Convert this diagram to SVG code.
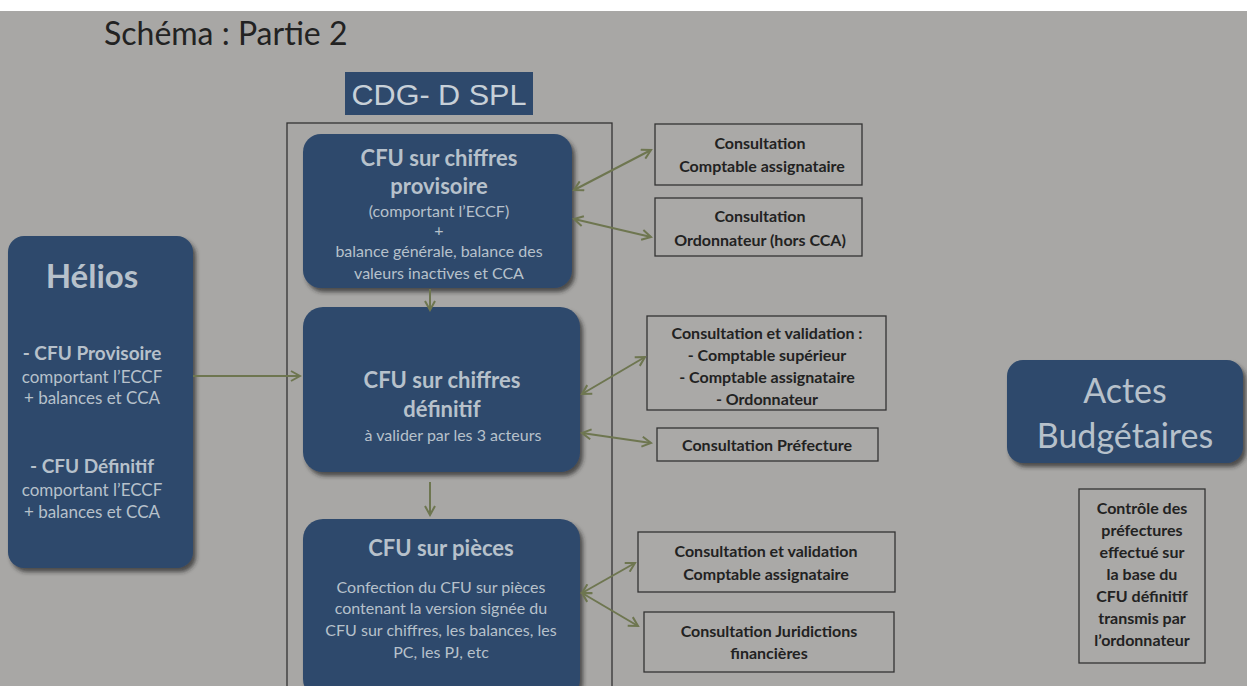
<svg xmlns="http://www.w3.org/2000/svg" width="1247" height="686" viewBox="0 0 1247 686">
<defs>
<marker id="ah" viewBox="0 0 12 12" refX="10" refY="6" markerWidth="12" markerHeight="12" markerUnits="userSpaceOnUse" orient="auto-start-reverse">
<path d="M1,1 L10,6 L1,11" fill="none" stroke="#6e7650" stroke-width="2"/>
</marker>
<filter id="sh" x="-5%" y="-5%" width="115%" height="115%">
<feDropShadow dx="3" dy="4" stdDeviation="2" flood-color="#222" flood-opacity="0.7"/>
</filter>
</defs>
<style>
.bg{fill:#a8a7a5}
.node{fill:#2e496c;filter:url(#sh)}
.nt{font-family:Lato,"Open Sans",sans-serif;fill:#b7c1cb;text-anchor:middle}
.h1{font-size:22px;font-weight:bold}
.sm{font-size:16px}
.box{fill:#aaa9a7;stroke:#333;stroke-width:1.3}
.bt{font-family:Lato,"Open Sans",sans-serif;font-size:16px;font-weight:bold;fill:#222;text-anchor:middle}
.con{stroke:#6e7650;stroke-width:2;fill:none;marker-end:url(#ah)}
.dbl{marker-start:url(#ah)}
</style>
<rect x="0" y="0" width="1247" height="686" class="bg"/>
<rect x="0" y="0" width="1247" height="11" fill="#ffffff"/>
<text x="104" y="45" font-family="Lato,'Open Sans',sans-serif" font-size="32" fill="#222">Schéma : Partie 2</text>

<g id="cdg">
<rect x="345" y="72" width="188" height="43" fill="#2e496c"/>
<text x="439" y="105" font-family="'Liberation Sans',Arial,sans-serif" font-size="30" fill="#c7d0d8" text-anchor="middle" textLength="175" lengthAdjust="spacingAndGlyphs">CDG- D SPL</text>
<rect x="287" y="123" width="325" height="580" fill="none" stroke="#333" stroke-width="1.3"/>
</g>

<g id="helios">
<rect x="8" y="236" width="185" height="332" rx="16" class="node"/>
<text x="92" y="288" class="nt" font-size="33" font-weight="bold">Hélios</text>
<text x="92" y="360" class="nt" font-size="19" font-weight="bold">- CFU Provisoire</text>
<text x="92" y="383" class="nt" font-size="17">comportant l’ECCF</text>
<text x="92" y="404" class="nt" font-size="17">+ balances et CCA</text>
<text x="92" y="473" class="nt" font-size="19" font-weight="bold">- CFU Définitif</text>
<text x="92" y="496" class="nt" font-size="17">comportant l’ECCF</text>
<text x="92" y="518" class="nt" font-size="17">+ balances et CCA</text>
</g>

<g id="n1">
<rect x="303" y="134" width="269" height="154" rx="18" class="node"/>
<text x="439" y="166" class="nt h1">CFU sur chiffres</text>
<text x="439" y="194" class="nt h1">provisoire</text>
<text x="439" y="217" class="nt sm">(comportant l’ECCF)</text>
<text x="439" y="236" class="nt sm">+</text>
<text x="439" y="257" class="nt sm">balance générale, balance des</text>
<text x="439" y="279" class="nt sm">valeurs inactives et CCA</text>
</g>

<g id="n2">
<rect x="303" y="307" width="277" height="165" rx="20" class="node"/>
<text x="442" y="388" class="nt h1">CFU sur chiffres</text>
<text x="442" y="417" class="nt h1">définitif</text>
<text x="453" y="441" class="nt sm">à valider par les 3 acteurs</text>
</g>

<g id="n3">
<rect x="303" y="519" width="277" height="180" rx="20" class="node"/>
<text x="441" y="556" class="nt h1">CFU sur pièces</text>
<text x="441" y="593" class="nt sm">Confection du CFU sur pièces</text>
<text x="441" y="614" class="nt sm">contenant la version signée du</text>
<text x="441" y="636" class="nt sm">CFU sur chiffres, les balances, les</text>
<text x="441" y="658" class="nt sm">PC, les PJ, etc</text>
</g>

<g id="b1">
<rect x="655" y="124" width="207" height="61" class="box"/>
<text x="760" y="149" class="bt">Consultation</text>
<text x="762" y="172" class="bt">Comptable assignataire</text>
</g>
<g id="b2">
<rect x="655" y="198" width="207" height="58" class="box"/>
<text x="760" y="222" class="bt">Consultation</text>
<text x="760" y="246" class="bt">Ordonnateur (hors CCA)</text>
</g>
<g id="b3">
<rect x="647" y="316" width="239" height="94" class="box"/>
<text x="767" y="339" class="bt">Consultation et validation :</text>
<text x="767" y="361" class="bt">- Comptable supérieur</text>
<text x="767" y="383" class="bt">- Comptable assignataire</text>
<text x="767" y="405" class="bt">- Ordonnateur</text>
</g>
<g id="b4">
<rect x="657" y="428" width="221" height="33" class="box"/>
<text x="767" y="451" class="bt">Consultation Préfecture</text>
</g>
<g id="b5">
<rect x="638" y="532" width="257" height="60" class="box"/>
<text x="766" y="557" class="bt">Consultation et validation</text>
<text x="766" y="580" class="bt">Comptable assignataire</text>
</g>
<g id="b6">
<rect x="644" y="612" width="250" height="60" class="box"/>
<text x="769" y="637" class="bt">Consultation Juridictions</text>
<text x="769" y="659" class="bt">financières</text>
</g>

<g id="actes">
<rect x="1007" y="360" width="236" height="103" rx="16" class="node"/>
<text x="1125" y="403" class="nt" font-size="34">Actes</text>
<text x="1125" y="448" class="nt" font-size="34">Budgétaires</text>
</g>
<g id="controle">
<rect x="1079" y="489" width="126" height="174" class="box"/>
<text x="1142" y="514" class="bt">Contrôle des</text>
<text x="1142" y="536" class="bt">préfectures</text>
<text x="1142" y="558" class="bt">effectué sur</text>
<text x="1142" y="580" class="bt">la base du</text>
<text x="1142" y="602" class="bt">CFU définitif</text>
<text x="1142" y="624" class="bt">transmis par</text>
<text x="1142" y="646" class="bt">l’ordonnateur</text>
</g>

<g id="connectors">
<line x1="193" y1="376" x2="300" y2="376" class="con"/>
<line x1="430" y1="289" x2="430" y2="310" class="con"/>
<line x1="430" y1="482" x2="430" y2="515" class="con"/>
<line x1="574" y1="190" x2="651" y2="150" class="con dbl"/>
<line x1="574" y1="219" x2="651" y2="237" class="con dbl"/>
<line x1="582" y1="394" x2="645" y2="357" class="con dbl"/>
<line x1="582" y1="433" x2="651" y2="443" class="con dbl"/>
<line x1="582" y1="593" x2="635" y2="563" class="con dbl"/>
<line x1="582" y1="593" x2="638" y2="626" class="con dbl"/>
</g>
</svg>
